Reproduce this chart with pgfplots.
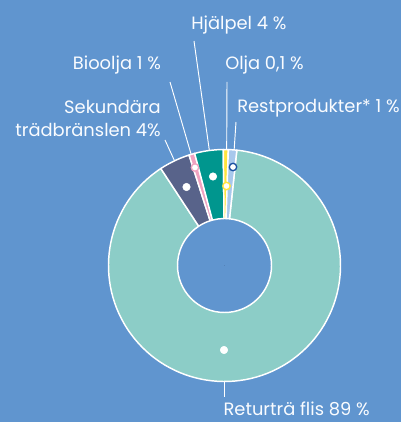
\documentclass[border=0pt]{standalone}
\usepackage{pgfplots}
\pgfplotsset{compat=1.18}
\usepackage{pgfplotstable}
\usepackage{fontspec}
\setmainfont{Poppins}
\definecolor{bg}{RGB}{96,149,207}
\definecolor{returc}{RGB}{140,205,199}
\definecolor{sekc}{RGB}{88,99,138}
\definecolor{hjalpc}{RGB}{0,150,142}
\definecolor{biooc}{RGB}{240,162,192}
\definecolor{oljac}{RGB}{255,228,60}
\definecolor{restc}{RGB}{168,200,236}
\definecolor{dotblue}{RGB}{25,80,160}
\definecolor{txt}{RGB}{250,252,255}

% segments: start/end angle (deg, counter-clockwise from +x)
\pgfplotstableread{
x y a0 a1 pct ci
0 0 123.3 443.9 89 0
0 0 107.8 123.3 4 1
0 0 104.9 107.8 1 2
0 0 90.6 104.9 4 3
0 0 88.1 90.6 0.1 4
0 0 83.9 88.1 1 5
}\segtable

\begin{document}
\begin{tikzpicture}
\fill[bg] (0,0) rectangle (300.75pt,316.5pt);
\path[use as bounding box] (0,0) rectangle (300.75pt,316.5pt);
\begin{axis}[
  at={(0,0)}, anchor=south west,
  x=0.75pt, y=0.75pt,
  xmin=-224.5, xmax=176.5, ymin=-156.5, ymax=265.5,
  scale only axis, hide axis, clip=false,
]
\addplot[scatter, only marks, mark=*, mark size=0pt,
  point meta=\thisrow{ci},
  visualization depends on={\thisrow{a0}\as\aS},
  visualization depends on={\thisrow{a1}\as\aE},
  visualization depends on={\thisrow{ci}\as\ci},
  scatter/@pre marker code/.code={%
    \pgfmathtruncatemacro\idx{\ci}%
    \ifcase\idx \colorlet{segc}{returc}\or \colorlet{segc}{sekc}\or
      \colorlet{segc}{biooc}\or \colorlet{segc}{hjalpc}\or
      \colorlet{segc}{oljac}\or \colorlet{segc}{restc}\fi
    \fill[fill=segc, draw=white, line width=1.1pt, line join=round]
      (\aS:87pt) arc[start angle=\aS, end angle=\aE, radius=87pt]
      -- (\aE:35.25pt) arc[start angle=\aE, end angle=\aS, radius=35.25pt] -- cycle;
  },
  scatter/@post marker code/.code={},
] table[x=x, y=y] {\segtable};

% leader lines
\addplot[white, line width=0.7pt] coordinates {(8.5,98.5) (11.5,143.5)};
\addplot[white, line width=0.7pt] coordinates {(2,79.5) (2.5,183.5)};
\addplot[white, line width=0.7pt] coordinates {(-11.5,89) (-30.5,224.5)};
\addplot[white, line width=0.7pt] coordinates {(-29.5,98) (-54.5,183.5)};
\addplot[white, line width=0.7pt] coordinates {(-38,78.5) (-59.5,125.5)};
\addplot[white, line width=0.7pt] coordinates {(-0.5,-84.5) (-0.5,-131.5)};

% dots
\addplot[only marks, mark=*, mark size=2.8pt, mark options={fill=white, draw=dotblue, line width=1pt}] coordinates {(8.5,98.5)};
\addplot[only marks, mark=*, mark size=2.8pt, mark options={fill=white, draw=oljac, line width=1pt}] coordinates {(2,79.5)};
\addplot[only marks, mark=*, mark size=2.8pt, mark options={fill=white, draw=white}] coordinates {(-11.5,89)};
\addplot[only marks, mark=*, mark size=2.8pt, mark options={fill=white, draw=biooc, line width=1pt}] coordinates {(-29.5,98)};
\addplot[only marks, mark=*, mark size=2.8pt, mark options={fill=white, draw=white}] coordinates {(-38,78.5)};
\addplot[only marks, mark=*, mark size=2.8pt, mark options={fill=white, draw=white}] coordinates {(-0.5,-84.5)};

% labels
\begin{scope}[every node/.style={text=txt, font=\fontsize{13.4pt}{16pt}\selectfont, inner sep=0pt}]
\node[anchor=base west] at (axis cs:-33.5,236) {Hjälpel 4 \%};
\node[anchor=base west] at (axis cs:-151.8,195.5) {Bioolja 1 \%};
\node[anchor=base west] at (axis cs:0.5,195.5) {Olja 0,1 \%};
\node[anchor=base west] at (axis cs:12.5,152.8) {Restprodukter* 1 \%};
\node[anchor=base east] at (axis cs:-63.5,151.5) {Sekundära};
\node[anchor=base east] at (axis cs:-63.5,128.8) {trädbränslen 4\%};
\node[anchor=base west] at (axis cs:-1.2,-150.3) {Returträ flis 89 \%};
\end{scope}
\end{axis}
\end{tikzpicture}
\end{document}
